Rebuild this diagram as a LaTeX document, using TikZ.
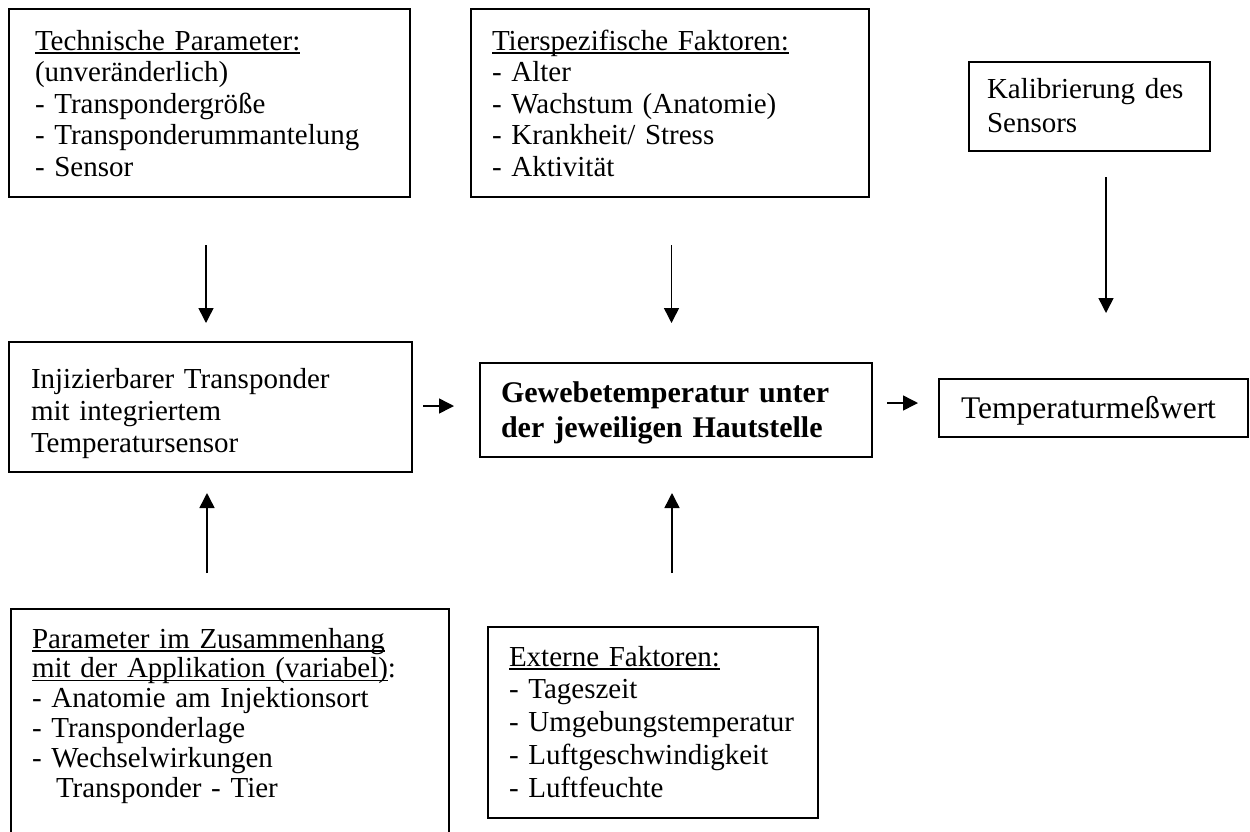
\documentclass[tikz,border=0pt]{standalone}
\usepackage{fontspec}
\setmainfont{Liberation Serif}
\usetikzlibrary{arrows.meta}
\newcommand\ulx[1]{\leavevmode\begingroup\setbox0=\hbox{#1}\rlap{\rule[-3.6pt]{\wd0}{1.5pt}}\box0\endgroup}
\begin{document}
\begin{tikzpicture}[x=1pt,y=-1pt,
  box/.style={draw, line width=1.6pt, anchor=north west, outer sep=0pt, inner ysep=0pt, align=left},
  txt/.style={font=\fontsize{29}{#1}\selectfont},
  arr/.style={line width=1.5pt, -{Triangle[length=15pt,width=15pt]}}]
\fill[white] (0,0) rectangle (1250,831);
\useasboundingbox (0,0) rectangle (1250,831);

\node[box, txt=31.5, inner xsep=26pt, text width=349pt, text height=41pt, text depth=147pt] (tech) at (9,9)
  {\ulx{Technische Parameter:}\\(unveränderlich)\\- Transpondergröße\\- Transponderummantelung\\- Sensor};
\node[box, txt=31.5, inner xsep=21pt, text width=356pt, text height=41pt, text depth=147pt] (tier) at (471,9)
  {\ulx{Tierspezifische Faktoren:}\\- Alter\\- Wachstum (Anatomie)\\- Krankheit/ Stress\\- Aktivität};
\node[box, txt=34, inner xsep=18pt, text width=205pt, text height=36pt, text depth=53pt] (kal) at (969,62)
  {Kalibrierung des\\Sensors};
\node[box, txt=32, inner xsep=22pt, text width=359pt, text height=46pt, text depth=84pt] (inj) at (9,342)
  {Injizierbarer Transponder\\mit integriertem\\Temperatursensor};
\node[box, font=\fontsize{30}{35}\selectfont\bfseries, inner xsep=21pt, text width=350pt, text height=39pt, text depth=55pt] (gew) at (480,363)
  {Gewebetemperatur unter\\der jeweiligen Hautstelle};
\node[box, font=\fontsize{31.5}{34}\selectfont, inner xsep=22pt, text width=265pt, text height=39pt, text depth=19pt] (temp) at (939,379)
  {Temperaturmeßwert};
\node[box, txt=29.8, inner xsep=21pt, text width=396pt, text height=39pt, text depth=212pt] (param) at (11,609)
  {\ulx{Parameter im Zusammenhang}\\\ulx{mit der Applikation (variabel)}:\\- Anatomie am Injektionsort\\- Transponderlage\\- Wechselwirkungen\\\hspace*{24pt}Transponder - Tier};
\node[box, txt=32.8, inner xsep=21pt, text width=288pt, text height=39pt, text depth=152pt] (ext) at (488,627)
  {\ulx{Externe Faktoren:}\\- Tageszeit\\- Umgebungstemperatur\\- Luftgeschwindigkeit\\- Luftfeuchte};

\draw[arr, shorten <=48pt, shorten >=19pt] ([xshift=-3.5pt]tech.south) -- ([xshift=-3.5pt]tech.south |- inj.north);
\draw[arr, shorten <=48pt, shorten >=40pt] ([xshift=1.5pt]tier.south) -- ([xshift=1.5pt]tier.south |- gew.north);
\draw[arr, shorten <=26pt, shorten >=66pt] ([xshift=16.5pt]kal.south) -- ([xshift=16.5pt]kal.south |- temp.north);
\draw[arr, shorten <=36pt, shorten >=21pt] ([xshift=-23pt]param.north) -- ([xshift=-23pt]param.north |- inj.south);
\draw[arr, shorten <=54pt, shorten >=36pt] ([xshift=19pt]ext.north) -- ([xshift=19pt]ext.north |- gew.south);
\draw[arr, shorten <=11pt, shorten >=26pt] ([yshift=1pt]inj.east) -- ([yshift=1pt]inj.east -| gew.west);
\draw[arr, shorten <=15pt, shorten >=21pt] ([yshift=7pt]gew.east) -- ([yshift=7pt]gew.east -| temp.west);
\end{tikzpicture}
\end{document}
